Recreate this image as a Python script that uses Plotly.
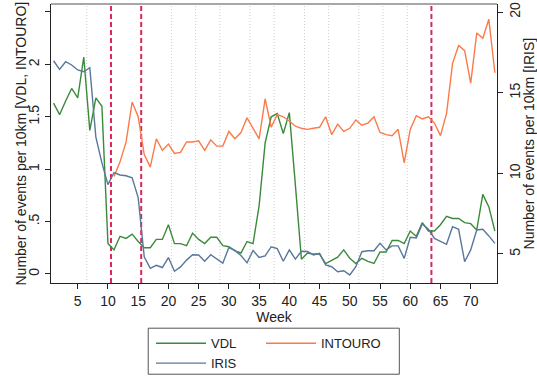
import plotly.graph_objects as go

# Weekly event rates per 10 km for the three road sections
weeks = list(range(1, 75))

vdl = [1.63, 1.52, 1.65, 1.77, 1.68, 2.07, 1.37, 1.68, 1.60, 0.29,
       0.23, 0.36, 0.34, 0.38, 0.31, 0.25, 0.25, 0.33, 0.33, 0.47,
       0.29, 0.29, 0.27, 0.39, 0.33, 0.29, 0.35, 0.35, 0.27, 0.26,
       0.22, 0.20, 0.31, 0.29, 0.65, 1.25, 1.50, 1.53, 1.34, 1.54,
       0.85, 0.14, 0.20, 0.19, 0.19, 0.10, 0.13, 0.16, 0.23, 0.15,
       0.10, 0.15, 0.12, 0.10, 0.21, 0.21, 0.32, 0.32, 0.29, 0.41,
       0.36, 0.49, 0.41, 0.41, 0.47, 0.55, 0.53, 0.53, 0.49, 0.48,
       0.42, 0.76, 0.64, 0.41]

intouro = [None] * 10 + [
       0.93, 1.07, 1.26, 1.64, 1.50, 1.14, 1.02, 1.29, 1.18, 1.24,
       1.15, 1.16, 1.26, 1.26, 1.27, 1.18, 1.28, 1.22, 1.22, 1.36,
       1.29, 1.35, 1.49, 1.39, 1.29, 1.67, 1.40, 1.52, 1.50, 1.46,
       1.41, 1.39, 1.38, 1.39, 1.40, 1.50, 1.33, 1.43, 1.36, 1.39,
       1.47, 1.42, 1.44, 1.50, 1.35, 1.33, 1.32, 1.38, 1.06, 1.38,
       1.51, 1.48, 1.50, 1.44, 1.32, 1.53, 2.01, 2.18, 2.13, 1.82,
       2.30, 2.25, 2.43, 1.92]

iris = [16.98, 16.45, 16.92, 16.72, 16.41, 16.30, 16.55, 12.25, 10.65, 9.30,
        10.05, 9.90, 9.85, 9.72, 8.50, 4.82, 4.11, 4.30, 4.16, 4.78,
        3.93, 4.20, 4.62, 4.95, 4.94, 4.55, 4.95, 4.70, 4.43, 5.40,
        5.22, 4.90, 4.45, 5.22, 4.78, 4.88, 5.45, 5.33, 4.55, 5.25,
        4.68, 5.17, 5.15, 4.94, 5.04, 4.32, 4.21, 3.90, 3.96, 3.70,
        4.21, 5.14, 5.20, 5.20, 5.66, 5.25, 5.50, 5.50, 4.73, 6.04,
        5.99, 6.86, 6.53, 5.97, 5.81, 5.60, 6.69, 6.53, 4.52, 5.25,
        6.49, 6.53, 6.12, 5.66]

# Reference lines: month boundaries (dotted) and intervention weeks (dashed)
month_breaks = [6.5, 20.5, 24.5, 28.5, 33.5, 37.5, 42.5, 46.5, 51.5, 55.5, 59.5]
phase_breaks = [10.5, 15.5, 63.5]

x_ticks = list(range(5, 75, 5))
y_left_ticks = [0, 0.5, 1, 1.5, 2, 2.5]
y_left_labels = ["0", ".5", "1", "1.5", "2", "2.5"]
y_right_ticks = [5, 10, 15, 20]

left_title = "Number of events per 10km [VDL, INTOURO]"
right_title = "Number of events per 10km [IRIS]"

GREEN = "#3b8a3b"
ORANGE = "#fb7a4a"
BLUE = "#58779b"
RED = "#d6285a"
INK = "#222222"
FONT = "Arial, Liberation Sans, sans-serif"

fig = go.Figure()
fig.add_trace(go.Scatter(x=weeks, y=vdl, name="VDL", mode="lines",
                         line=dict(color=GREEN, width=1.4), legend="legend"))
fig.add_trace(go.Scatter(x=weeks, y=intouro, name="INTOURO", mode="lines",
                         line=dict(color=ORANGE, width=1.4), legend="legend2"))
fig.add_trace(go.Scatter(x=weeks, y=iris, name="IRIS", mode="lines", yaxis="y2",
                         line=dict(color=BLUE, width=1.4), legend="legend"))

shapes = []
for wk in month_breaks:
    shapes.append(dict(type="line", xref="x", yref="paper", x0=wk, x1=wk, y0=0, y1=1,
                       line=dict(color="#cfcfcf", width=1, dash="1px,2px"), layer="below"))
for wk in phase_breaks:
    shapes.append(dict(type="line", xref="x", yref="paper", x0=wk, x1=wk, y0=0, y1=1,
                       line=dict(color=RED, width=2, dash="5px,3px"), layer="below"))
# top frame edge
shapes.append(dict(type="line", xref="paper", yref="paper", x0=0, x1=1, y0=1, y1=1,
                   line=dict(color="#8a8a8a", width=1.5)))
# legend frame
shapes.append(dict(type="rect", xref="paper", yref="paper", x0=0.218, x1=0.781,
                   y0=-0.162, y1=-0.327, line=dict(color="#555555", width=1)))

# axis titles, rotated to read bottom-to-top
annotations = [
    dict(text=left_title, xref="paper", yref="paper", x=-0.0695, y=0.5,
         xanchor="center", yanchor="middle", textangle=-90, showarrow=False,
         font=dict(size=14, color=INK)),
    dict(text=right_title, xref="paper", yref="paper", x=1.0717, y=0.5,
         xanchor="center", yanchor="middle", textangle=-90, showarrow=False,
         font=dict(size=14, color=INK)),
]

fig.update_layout(
    width=537, height=379,
    margin=dict(l=51, r=40, t=4, b=96, autoexpand=False),
    paper_bgcolor="white", plot_bgcolor="white",
    font=dict(family=FONT, size=14, color=INK),
    shapes=shapes,
    annotations=annotations,
    xaxis=dict(range=[0.58, 74.35], tickvals=x_ticks, ticks="outside", ticklen=5,
               tickcolor=INK, showline=True, linecolor=INK, linewidth=1.3,
               showgrid=False, zeroline=False, automargin=False,
               title=dict(text="Week", standoff=2, font=dict(size=14))),
    yaxis=dict(range=[-0.086, 2.576], tickvals=y_left_ticks, ticktext=y_left_labels,
               tickangle=-90, ticks="outside", ticklen=5, tickcolor=INK,
               showline=True, linecolor=INK, linewidth=1.3, showgrid=False,
               zeroline=False, automargin=False),
    yaxis2=dict(overlaying="y", side="right", range=[3.2, 20.5], tickvals=y_right_ticks,
                tickangle=-90, ticks="outside", ticklen=5, tickcolor=INK,
                showline=True, linecolor=INK, linewidth=1.3, showgrid=False,
                zeroline=False, automargin=False),
    legend=dict(xref="container", yref="container", x=151 / 537, y=0.1338,
                xanchor="left", yanchor="top", bgcolor="rgba(0,0,0,0)",
                borderwidth=0, itemwidth=50, font=dict(size=13, color=INK),
                tracegroupgap=0),
    legend2=dict(xref="container", yref="container", x=261 / 537, y=0.1338,
                 xanchor="left", yanchor="top", bgcolor="rgba(0,0,0,0)",
                 borderwidth=0, itemwidth=50, font=dict(size=13, color=INK)),
)

fig.write_html("out.html")
